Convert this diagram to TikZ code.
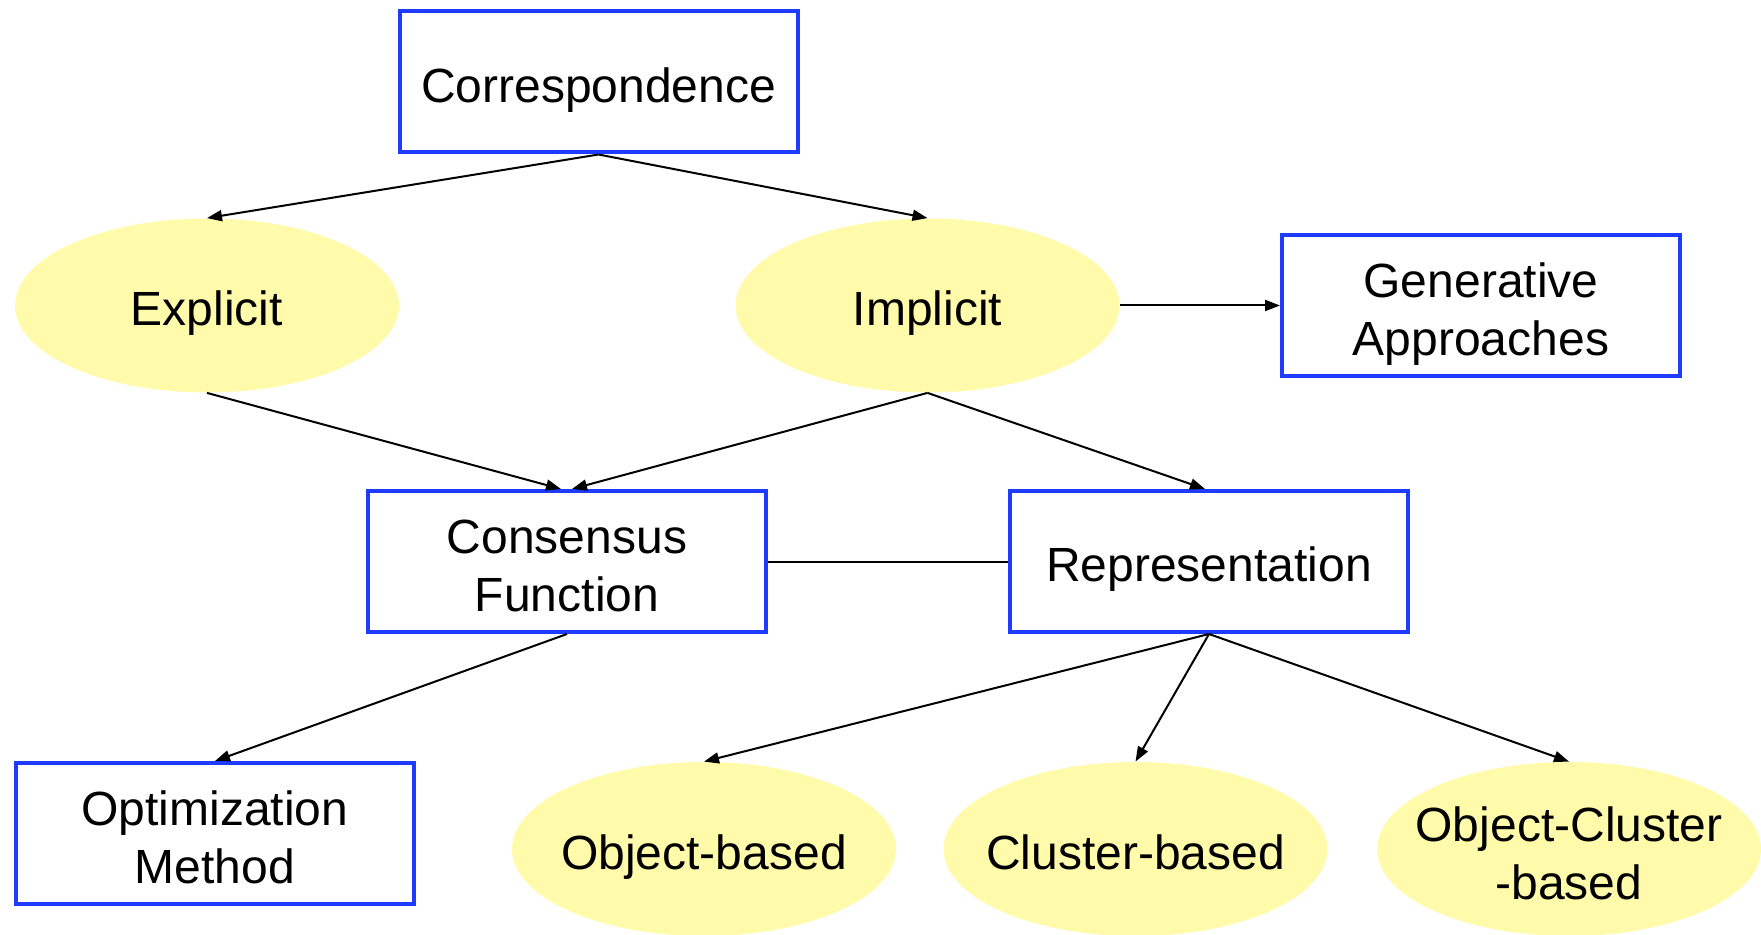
\documentclass[tikz,border=0pt]{standalone}
\usepackage{fontspec}
\setmainfont{Liberation Sans}
\usetikzlibrary{shapes.geometric,arrows.meta,calc}
\definecolor{boxblue}{RGB}{30,60,255}
\definecolor{ellyellow}{RGB}{255,251,170}
\begin{document}
\begin{tikzpicture}[x=0.5pt,y=-0.5pt,
  font=\fontsize{24}{29}\selectfont,
  rbox/.style={draw=boxblue,line width=2pt,fill=white,minimum width=199pt,minimum height=70.5pt,inner sep=0pt},
  ell/.style={ellipse,fill=ellyellow,minimum width=192pt,minimum height=87pt,inner sep=0pt},
  txt/.style={align=center,inner sep=0pt,text depth=0pt,yshift=-1.5pt},
  txtb/.style={align=center,inner sep=0pt,text depth=0pt,yshift=-2pt},
  conn/.style={line width=1pt,-{Triangle[length=7.5pt,width=5.5pt]}},
  plainconn/.style={line width=1pt}]
\useasboundingbox (0,0) rectangle (1761,935);
\node[rbox,label={[txt]center:Correspondence}] (corr) at (598.5,82) {};
\node[ell,label={[txt]center:Explicit}] (expl) at (207,305.5) {};
\node[ell,label={[txt]center:Implicit}] (impl) at (927.5,305.5) {};
\node[rbox,label={[txtb]center:Generative\\Approaches}] (gen) at (1481,305.5) {};
\node[rbox,label={[txtb]center:Consensus\\Function}] (cons) at (567,561.5) {};
\node[rbox,label={[txt]center:Representation}] (rep) at (1209,561.5) {};
\node[rbox,label={[txtb]center:Optimization\\Method}] (opt) at (215,833.5) {};
\node[ell,label={[txt]center:Object-based}] (objb) at (704,849) {};
\node[ell,label={[txt]center:Cluster-based}] (clb) at (1135.5,849) {};
\node[ell,label={[txtb]center:Object-Cluster\\-based}] (ocb) at (1569,849) {};
\draw[conn] (corr.south) -- (expl.north);
\draw[conn] (corr.south) -- (impl.north);
\draw[conn] (impl.east) -- (gen.west);
\draw[conn] (expl.south) -- ($(cons.north)+(-6,0)$);
\draw[conn] (impl.south) -- ($(cons.north)+(5,0)$);
\draw[conn] (impl.south) -- ($(rep.north)+(-4,0)$);
\draw[plainconn] (cons.east) -- (rep.west);
\draw[conn] (cons.south) -- (opt.north);
\draw[conn] (rep.south) -- (objb.north);
\draw[conn] (rep.south) -- (clb.north);
\draw[conn] (rep.south) -- (ocb.north);
\end{tikzpicture}
\end{document}
